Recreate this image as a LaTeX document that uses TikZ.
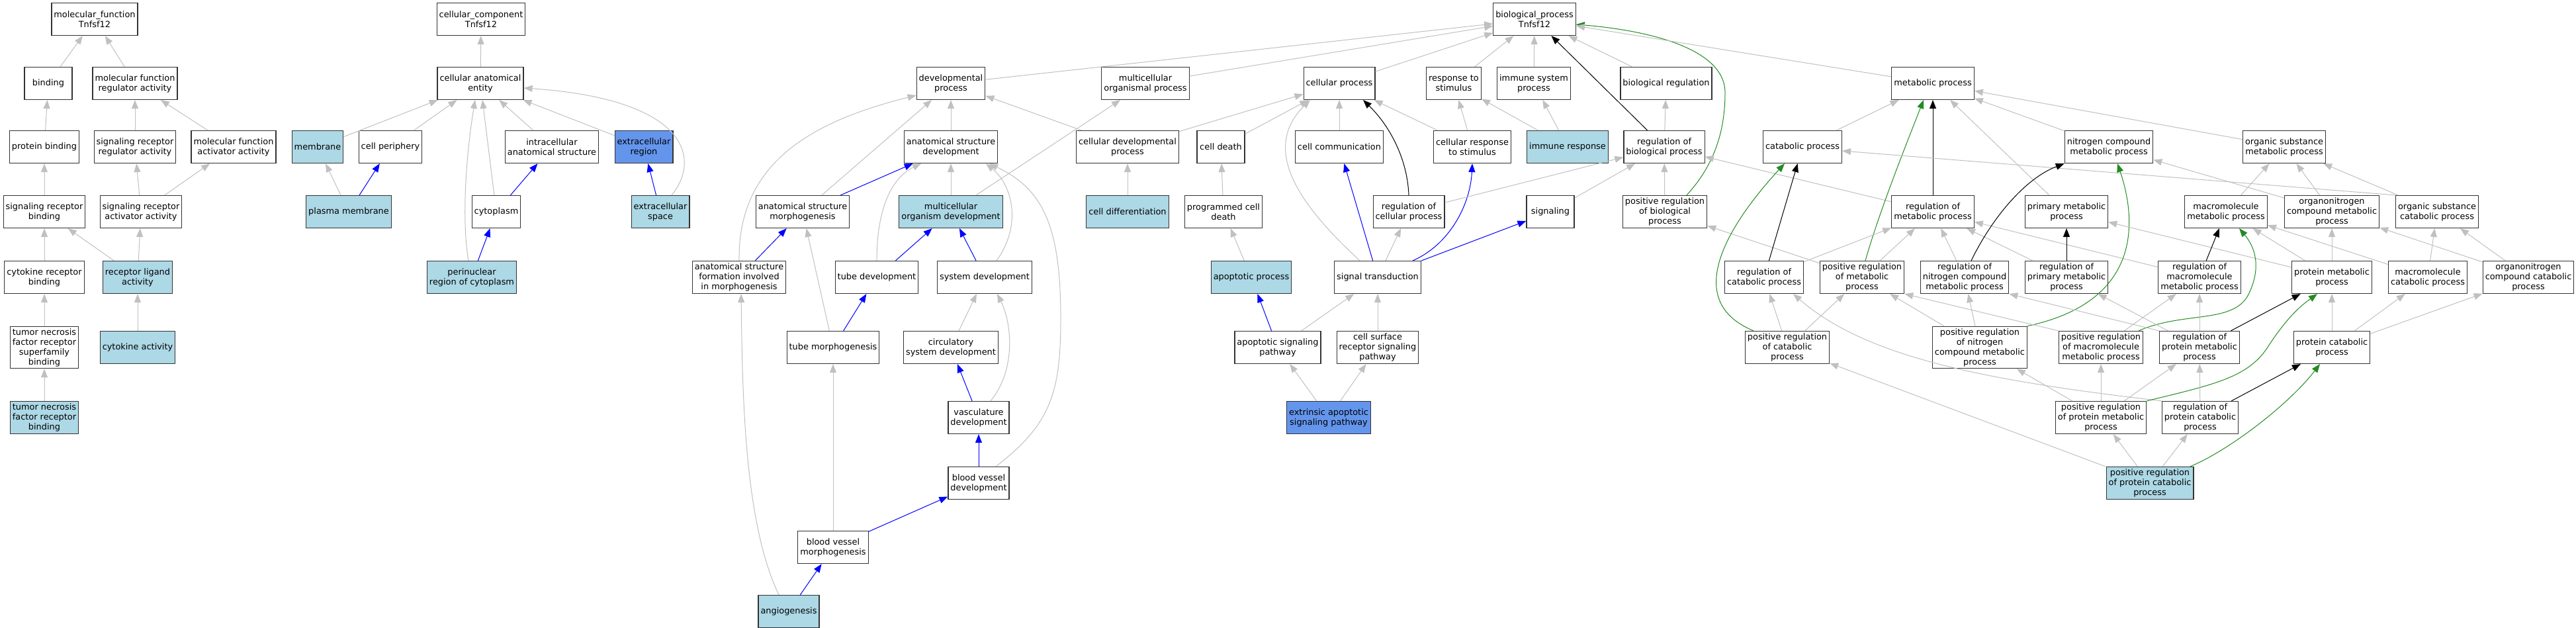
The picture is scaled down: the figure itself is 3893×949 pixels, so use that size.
\documentclass[tikz,border=0pt]{standalone}
\usepackage{fontspec}
\setmainfont{DejaVu Sans}
\usetikzlibrary{arrows.meta}
\definecolor{hitblue}{RGB}{173,216,230}
\definecolor{seedblue}{RGB}{100,149,237}
\definecolor{isagray}{RGB}{192,192,192}
\definecolor{posgreen}{RGB}{34,139,34}

\begin{document}
\begin{tikzpicture}[x=1pt,y=1pt,
    goterm/.style={draw=black!80, line width=1.2pt, fill=white, align=center,
        minimum width=72pt, minimum height=49pt, inner xsep=3.5pt, inner ysep=3pt,
        font=\fontsize{12.9}{15}\selectfont},
    hit/.style={goterm, fill=hitblue},
    seed/.style={goterm, fill=seedblue},
    isa/.style={draw=isagray, line width=1pt, arrows={-Triangle[length=13pt, width=10pt]}},
    blu/.style={isa, draw=blue},
    blk/.style={isa, draw=black},
    grn/.style={isa, draw=posgreen}]
    \useasboundingbox (0,0) rectangle (3893,-949);

    % molecular function
    \node[goterm] (mf) at (143,-29) {molecular\_function\\Tnfsf12};
    \node[goterm] (bind) at (73,-126) {binding};
    \node[goterm] (mfreg) at (204,-126) {molecular function\\regulator activity};
    \node[goterm] (pbind) at (67,-222) {protein binding};
    \node[goterm] (srreg) at (204,-222) {signaling receptor\\regulator activity};
    \node[goterm] (mfact) at (353,-222) {molecular function\\activator activity};
    \node[goterm] (srbind) at (67,-320) {signaling receptor\\binding};
    \node[goterm] (sract) at (213,-320) {signaling receptor\\activator activity};
    \node[goterm] (ckrb) at (67,-419) {cytokine receptor\\binding};
    \node[hit] (rla) at (208,-419) {receptor ligand\\activity};
    \node[goterm] (tnfsf) at (67,-525) {tumor necrosis\\factor receptor\\superfamily\\binding};
    \node[hit] (cka) at (208,-525) {cytokine activity};
    \node[hit] (tnfrb) at (67,-631) {tumor necrosis\\factor receptor\\binding};

    % cellular component
    \node[goterm] (cc) at (727,-29) {cellular\_component\\Tnfsf12};
    \node[goterm] (cae) at (726,-126) {cellular anatomical\\entity};
    \node[hit] (memb) at (480,-222) {membrane};
    \node[goterm] (cper) at (590,-222) {cell periphery};
    \node[goterm] (ias) at (834,-222) {intracellular\\anatomical structure};
    \node[seed] (ecr) at (973,-222) {extracellular\\region};
    \node[hit] (pm) at (527,-320) {plasma membrane};
    \node[goterm] (cyto) at (750,-320) {cytoplasm};
    \node[hit] (ecs) at (998,-320) {extracellular\\space};
    \node[hit] (pnr) at (713,-419) {perinuclear\\region of cytoplasm};

    % biological process
    \node[goterm] (bp) at (2319,-29) {biological\_process\\Tnfsf12};
    \node[goterm] (dev) at (1437,-126) {developmental\\process};
    \node[goterm] (mop) at (1731,-126) {multicellular\\organismal process};
    \node[goterm] (cp) at (2024,-126) {cellular process};
    \node[goterm] (rts) at (2197,-126) {response to\\stimulus};
    \node[goterm] (isp) at (2318,-126) {immune system\\process};
    \node[goterm] (breg) at (2518,-126) {biological regulation};
    \node[goterm] (mp) at (2921,-126) {metabolic process};

    \node[goterm] (asd) at (1437,-222) {anatomical structure\\development};
    \node[goterm] (cdp) at (1704,-222) {cellular developmental\\process};
    \node[goterm] (cdeath) at (1845,-222) {cell death};
    \node[goterm] (ccomm) at (2024,-222) {cell communication};
    \node[goterm] (crs) at (2225,-222) {cellular response\\to stimulus};
    \node[hit] (ir) at (2369,-222) {immune response};
    \node[goterm] (rbp) at (2515,-222) {regulation of\\biological process};
    \node[goterm] (catp) at (2724,-222) {catabolic process};
    \node[goterm] (ncmp) at (3187,-222) {nitrogen compound\\metabolic process};
    \node[goterm] (osmp) at (3452,-222) {organic substance\\metabolic process};

    \node[goterm] (asm) at (1213,-320) {anatomical structure\\morphogenesis};
    \node[hit] (mod) at (1437,-320) {multicellular\\organism development};
    \node[hit] (cdiff) at (1704,-320) {cell differentiation};
    \node[goterm] (pcd) at (1849,-320) {programmed cell\\death};
    \node[goterm] (rcp) at (2129,-320) {regulation of\\cellular process};
    \node[goterm] (sig) at (2343,-320) {signaling};
    \node[goterm] (prbp) at (2516,-320) {positive regulation\\of biological\\process};
    \node[goterm] (rmp) at (2921,-320) {regulation of\\metabolic process};
    \node[goterm] (pmp) at (3123,-320) {primary metabolic\\process};
    \node[goterm] (mmp) at (3364,-320) {macromolecule\\metabolic process};
    \node[goterm] (oncmp) at (3524,-320) {organonitrogen\\compound metabolic\\process};
    \node[goterm] (oscp) at (3683,-320) {organic substance\\catabolic process};

    \node[goterm] (asf) at (1117,-419) {anatomical structure\\formation involved\\in morphogenesis};
    \node[goterm] (tubed) at (1325,-419) {tube development};
    \node[goterm] (sysd) at (1488,-419) {system development};
    \node[hit] (apop) at (1891,-419) {apoptotic process};
    \node[goterm] (st) at (2082,-419) {signal transduction};
    \node[goterm] (rcatp) at (2666,-419) {regulation of\\catabolic process};
    \node[goterm] (prmp) at (2814,-419) {positive regulation\\of metabolic\\process};
    \node[goterm] (rncmp) at (2969,-419) {regulation of\\nitrogen compound\\metabolic process};
    \node[goterm] (rpmp) at (3123,-419) {regulation of\\primary metabolic\\process};
    \node[goterm] (rmmp) at (3324,-419) {regulation of\\macromolecule\\metabolic process};
    \node[goterm] (protmp) at (3524,-419) {protein metabolic\\process};
    \node[goterm] (mcp) at (3669,-419) {macromolecule\\catabolic process};
    \node[goterm] (onccp) at (3821,-419) {organonitrogen\\compound catabolic\\process};

    \node[goterm] (tubem) at (1259,-525) {tube morphogenesis};
    \node[goterm] (csd) at (1437,-525) {circulatory\\system development};
    \node[goterm] (asp) at (1931,-525) {apoptotic signaling\\pathway};
    \node[goterm] (csrsp) at (2082,-525) {cell surface\\receptor signaling\\pathway};
    \node[goterm] (prcatp) at (2701,-525) {positive regulation\\of catabolic\\process};
    \node[goterm] (prncmp) at (2992,-525) {positive regulation\\of nitrogen\\compound metabolic\\process};
    \node[goterm] (prmmp) at (3175,-525) {positive regulation\\of macromolecule\\metabolic process};
    \node[goterm] (rprotmp) at (3324,-525) {regulation of\\protein metabolic\\process};
    \node[goterm] (protcp) at (3524,-525) {protein catabolic\\process};

    \node[goterm] (vascd) at (1479,-631) {vasculature\\development};
    \node[seed] (easp) at (2008,-631) {extrinsic apoptotic\\signaling pathway};
    \node[goterm] (prprotmp) at (3175,-631) {positive regulation\\of protein metabolic\\process};
    \node[goterm] (rprotcp) at (3325,-631) {regulation of\\protein catabolic\\process};

    \node[goterm] (bvd) at (1479,-730) {blood vessel\\development};
    \node[hit] (prprotcp) at (3249,-730) {positive regulation\\of protein catabolic\\process};
    \node[goterm] (bvm) at (1259,-827) {blood vessel\\morphogenesis};
    \node[hit] (angio) at (1192,-924) {angiogenesis};

    % molecular function edges
    \draw[isa] (bind) -- (mf);
    \draw[isa] (mfreg) -- (mf);
    \draw[isa] (pbind) -- (bind);
    \draw[isa] (srreg) -- (mfreg);
    \draw[isa] (mfact) -- (mfreg);
    \draw[isa] (srbind) -- (pbind);
    \draw[isa] (sract) -- (srreg);
    \draw[isa] (sract) -- (mfact);
    \draw[isa] (ckrb) -- (srbind);
    \draw[isa] (rla) -- (srbind);
    \draw[isa] (rla) -- (sract);
    \draw[isa] (tnfsf) -- (ckrb);
    \draw[isa] (cka) -- (rla);
    \draw[isa] (tnfrb) -- (tnfsf);

    % cellular component edges
    \draw[isa] (cae) -- (cc);
    \draw[isa] (memb) -- (cae);
    \draw[isa] (cper) -- (cae);
    \draw[isa] (pm) -- (memb);
    \draw[blu] (pm) -- (cper);
    \draw[isa] (ias) -- (cae);
    \draw[isa] (ecr) -- (cae);
    \draw[isa] ([xshift=17pt]ecs.north) .. controls (1060,-240) and (1040,-150) .. ([yshift=-7pt]cae.east);
    \draw[blu] (ecs) -- (ecr);
    \draw[isa] (cyto) -- (cae);
    \draw[blu] (cyto) -- (ias);
    \draw[isa] ([xshift=-5pt]pnr.north) .. controls (697,-330) and (705,-230) .. ([xshift=-8pt]cae.south);
    \draw[blu] (pnr) -- (cyto);

    % biological process edges
    \draw[isa] (dev) -- (bp);
    \draw[isa] (mop) -- (bp);
    \draw[isa] (cp) -- (bp);
    \draw[isa] (rts) -- (bp);
    \draw[isa] (isp) -- (bp);
    \draw[isa] (breg) -- (bp);
    \draw[blk] (rbp) -- (bp);
    \draw[grn] ([xshift=33pt]prbp.north) .. controls (2590,-250) and (2607,-200) .. (2607,-140)
        .. controls (2607,-70) and (2480,-45) .. ([yshift=-8pt]bp.east);
    \draw[isa] (mp) -- (bp);

    \draw[isa] (asd) -- (dev);
    \draw[isa] (asm) -- (dev);
    \draw[isa] (asf.north) .. controls (1115,-250) and (1220,-185) .. ([yshift=7pt]dev.south west);
    \draw[isa] (cdp) -- (dev);
    \draw[blu] (asm) -- (asd);
    \draw[isa] (tubed.north) .. controls (1325,-320) and (1345,-270) .. ([xshift=-45pt]asd.south);
    \draw[isa] (mod) -- (asd);
    \draw[isa] ([xshift=18pt]sysd.north) .. controls (1545,-340) and (1530,-280) .. ([xshift=53pt]asd.south);
    \draw[isa] ([xshift=26pt]bvd.north) .. controls (1590,-640) and (1603,-590) .. (1603,-480)
        .. controls (1603,-340) and (1575,-285) .. ([xshift=58pt]asd.south);
    \draw[isa] (mod) -- (mop);
    \draw[blu] (tubed) -- (mod);
    \draw[blu] (sysd) -- (mod);
    \draw[blu] (tubem) -- (tubed);
    \draw[isa] (tubem) -- (asm);
    \draw[isa] (csd) -- (sysd);
    \draw[blu] (vascd) -- (csd);
    \draw[isa] ([xshift=18pt]vascd.north) .. controls (1535,-560) and (1530,-490) .. ([xshift=19pt]sysd.south);
    \draw[blu] (bvd) -- (vascd);
    \draw[isa] (bvm) -- (tubem);
    \draw[blu] (bvm) -- (bvd);
    \draw[blu] (angio) -- (bvm);
    \draw[isa] ([xshift=-15pt]angio.north) .. controls (1125,-790) and (1122,-600) .. ([xshift=3pt]asf.south);
    \draw[blu] (asf) -- (asm);

    \draw[isa] (cdp) -- (cp);
    \draw[isa] (cdiff) -- (cdp);
    \draw[isa] (cdeath) -- (cp);
    \draw[isa] (pcd) -- (cdeath);
    \draw[isa] (apop) -- (pcd);
    \draw[blu] (asp) -- (apop);
    \draw[isa] (asp) -- (st);
    \draw[isa] (easp) -- (asp);
    \draw[isa] (easp) -- (csrsp);
    \draw[isa] (csrsp) -- (st);
    \draw[isa] (ccomm) -- (cp);
    \draw[blu] (st) -- (ccomm);
    \draw[isa] ([xshift=-27pt]st.north) .. controls (1975,-320) and (1900,-230) .. ([xshift=-44pt]cp.south);
    \draw[blk] (rcp.north) .. controls (2127,-240) and (2100,-190) .. ([xshift=36pt]cp.south);
    \draw[isa] (crs) -- (cp);
    \draw[isa] (crs) -- (rts);
    \draw[blu] ([xshift=53pt]st.north) .. controls (2190,-370) and (2222,-310) .. (crs.south);
    \draw[blu] (st) -- (sig);
    \draw[isa] (st) -- (rcp);
    \draw[isa] (ir) -- (rts);
    \draw[isa] (ir) -- (isp);
    \draw[isa] (rcp) -- (rbp);
    \draw[isa] (sig) -- (rbp);
    \draw[isa] (rbp) -- (breg);
    \draw[isa] (prbp) -- (rbp);
    \draw[isa] (rmp) -- (rbp);
    \draw[isa] (prmp) -- (prbp);

    % metabolic edges
    \draw[isa] (catp) -- (mp);
    \draw[blk] (rmp) -- (mp);
    \draw[grn] ([xshift=5pt]prmp.north) .. controls (2840,-320) and (2880,-220) .. ([xshift=-14pt]mp.south);
    \draw[isa] (pmp) -- (mp);
    \draw[isa] (ncmp) -- (mp);
    \draw[isa] (osmp) -- (mp);
    \draw[blk] (rcatp) -- (catp);
    \draw[grn] ([xshift=-51pt]prcatp.north) .. controls (2530,-450) and (2630,-320) .. ([xshift=-27pt]catp.south);
    \draw[isa] (oscp.north west) -- ([yshift=-6pt]catp.east);
    \draw[isa] (rcatp) -- (rmp);
    \draw[isa] (prcatp) -- (rcatp);
    \draw[isa] (prcatp) -- (prmp);
    \draw[isa] (rprotcp.north west) .. controls (3000,-575) and (2820,-540) .. ([xshift=44pt]rcatp.south);
    \draw[isa] (prprotcp) -- (prcatp);
    \draw[isa] (prmp) -- (rmp);
    \draw[isa] (rncmp) -- (rmp);
    \draw[isa] (rpmp) -- (rmp);
    \draw[isa] (rmmp) -- (rmp);
    \draw[blk] ([xshift=10pt]rncmp.north) .. controls (3010,-330) and (3060,-270) .. (ncmp.south west);
    \draw[grn] (prncmp.north east) .. controls (3240,-455) and (3228,-330) .. ([xshift=13pt]ncmp.south);
    \draw[isa] (prncmp) -- (rncmp);
    \draw[isa] (prncmp) -- (prmp);
    \draw[blk] (rpmp) -- (pmp);
    \draw[isa] (protmp) -- (pmp);
    \draw[isa] (mmp) -- (osmp);
    \draw[isa] (oncmp) -- (osmp);
    \draw[isa] (oscp) -- (osmp);
    \draw[isa] (oncmp) -- (ncmp);
    \draw[blk] (rmmp) -- (mmp);
    \draw[grn] ([xshift=57pt]prmmp.north) .. controls (3300,-470) and (3375,-490) .. (3398,-445)
        .. controls (3420,-400) and (3405,-370) .. ([xshift=20pt]mmp.south);
    \draw[isa] (protmp) -- (mmp);
    \draw[isa] (mcp) -- (mmp);
    \draw[isa] (prmmp.north west) -- (prmp.south east);
    \draw[isa] (prmmp) -- (rmmp);
    \draw[isa] (rprotmp) -- (rmmp);
    \draw[isa] (rprotmp) -- (rpmp);
    \draw[isa] (rprotmp.north west) -- (rncmp.south east);
    \draw[blk] (rprotmp) -- (protmp);
    \draw[isa] (prprotmp) -- (prmmp);
    \draw[isa] (prprotmp) -- (rprotmp);
    \draw[isa] (prprotmp) -- (prncmp);
    \draw[grn] (prprotmp.north east) .. controls (3350,-580) and (3400,-570) .. (3430,-520)
        .. controls (3460,-475) and (3480,-460) .. ([xshift=-22pt]protmp.south);
    \draw[isa] (rprotcp) -- (rprotmp);
    \draw[blk] (rprotcp) -- (protcp);
    \draw[isa] (prprotcp) -- (prprotmp);
    \draw[isa] (prprotcp) -- (rprotcp);
    \draw[grn] ([xshift=61pt]prprotcp.north) .. controls (3370,-680) and (3460,-610) .. ([xshift=-18pt]protcp.south);
    \draw[isa] (protmp) -- (oncmp);
    \draw[isa] (mcp) -- (oscp);
    \draw[isa] (onccp) -- (oncmp);
    \draw[isa] (onccp) -- (oscp);
    \draw[isa] (protcp) -- (protmp);
    \draw[isa] (protcp) -- (mcp);
    \draw[isa] (protcp) -- (onccp);
\end{tikzpicture}
\end{document}
